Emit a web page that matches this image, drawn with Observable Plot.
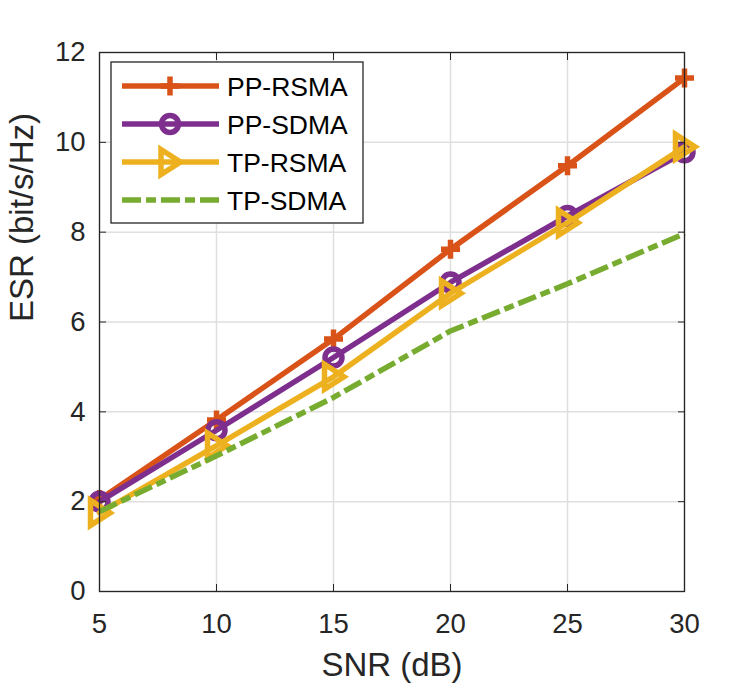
<!DOCTYPE html>
<html>
<head>
<meta charset="utf-8">
<script src="https://cdn.jsdelivr.net/npm/d3@7"></script>
<script src="https://cdn.jsdelivr.net/npm/@observablehq/plot@0.6"></script>
<style>
  html, body { margin: 0; padding: 0; background: #fff; }
  #chart { width: 756px; height: 688px; }
</style>
</head>
<body>
<div id="chart"></div>
<script>
const snr = [5, 10, 15, 20, 25, 30];
const seriesNames = ["PP-RSMA", "PP-SDMA", "TP-RSMA", "TP-SDMA"];
const ppRsma = [2.05, 3.82, 5.62, 7.62, 9.48, 11.43];
const ppSdma = [2.00, 3.59, 5.21, 6.88, 8.36, 9.78];
const tpRsma = [1.75, 3.25, 4.78, 6.64, 8.21, 9.90];
const tpSdma = [1.78, 3.02, 4.32, 5.80, 6.85, 7.97];
const xTicks = [5, 10, 15, 20, 25, 30];
const yTicks = [0, 2, 4, 6, 8, 10, 12];
const colors = ["#D95319", "#7E2F8E", "#EDB120", "#77AC30"];

const values = [ppRsma, ppSdma, tpRsma, tpSdma];
const rows = seriesNames.map((name, i) => snr.map((x, j) => ({series: name, snr: x, esr: values[i][j]})));

const LW = 5.5;
const plusSym = {draw(c) { c.moveTo(-9.5, 0); c.lineTo(9.5, 0); c.moveTo(0, -9.5); c.lineTo(0, 9.5); }};
const circleSym = {draw(c) { c.moveTo(8.5, 0); c.arc(0, 0, 8.5, 0, 2 * Math.PI); c.closePath(); }};
const triSym = {draw(c) { c.moveTo(10.5, 0); c.lineTo(-9, -12.5); c.lineTo(-9, 12.5); c.closePath(); }};
const symbols = [plusSym, circleSym, triSym, null];
const dashes = [null, null, null, "19,5,10,5"];

const font = "'Liberation Sans', Arial, Helvetica, sans-serif";
const ink = "#262626";

const marks = [
  Plot.gridX(xTicks, {stroke: "#dfdfdf", strokeOpacity: 1, strokeWidth: 1.5}),
  Plot.gridY(yTicks, {stroke: "#dfdfdf", strokeOpacity: 1, strokeWidth: 1.5})
];
rows.forEach((data, i) => {
  marks.push(Plot.line(data, {x: "snr", y: "esr", stroke: colors[i], strokeWidth: LW,
    strokeDasharray: dashes[i] || undefined,
    strokeLinecap: dashes[i] ? "butt" : "round", strokeLinejoin: "round"}));
  if (symbols[i]) {
    marks.push(Plot.dot(data, {x: "snr", y: "esr", symbol: symbols[i], r: 8, fill: "none",
      stroke: colors[i], strokeWidth: LW, strokeLinejoin: "miter"}));
  }
});
marks.push(
  Plot.frame({stroke: ink, strokeWidth: 1.3}),
  Plot.axisX(xTicks, {anchor: "bottom", tickSize: -7, tickPadding: 29, fontSize: 27.5, color: ink, label: null}),
  Plot.axisX(xTicks, {anchor: "top", tickSize: -7, tickFormat: () => "", label: null, color: ink}),
  Plot.axisY(yTicks, {anchor: "left", tickSize: -7, tickPadding: 21, fontSize: 27.5, color: ink, label: null}),
  Plot.axisY(yTicks, {anchor: "right", tickSize: -7, tickFormat: () => "", label: null, color: ink}),
  Plot.text(["SNR (dB)"], {frameAnchor: "bottom", dy: 74, fontSize: 33, fill: ink, lineAnchor: "middle"}),
  Plot.text(["ESR (bit/s/Hz)"], {frameAnchor: "left", dx: -77, rotate: -90, fontSize: 33, fill: ink, lineAnchor: "middle"})
);

const chart = Plot.plot({
  width: 756, height: 688,
  marginLeft: 99, marginRight: 72, marginTop: 52, marginBottom: 97,
  style: {fontFamily: font, background: "white", overflow: "visible"},
  x: {domain: [5, 30]},
  y: {domain: [0, 12]},
  marks
});
document.getElementById("chart").appendChild(chart);

// Legend
const svg = d3.select(chart);
const lg = svg.append("g").attr("font-family", font).attr("text-anchor", "start");
lg.append("rect").attr("x", 111).attr("y", 62).attr("width", 252).attr("height", 161)
  .attr("fill", "white").attr("stroke", ink).attr("stroke-width", 1.3);
seriesNames.forEach((name, i) => {
  const yy = 86 + i * 38;
  lg.append("line").attr("x1", 122).attr("x2", 219).attr("y1", yy).attr("y2", yy)
    .attr("stroke", colors[i]).attr("stroke-width", LW)
    .attr("stroke-dasharray", dashes[i]);
  if (symbols[i]) {
    const p = d3.path();
    symbols[i].draw(p, 0);
    lg.append("path").attr("d", p.toString()).attr("transform", `translate(170,${yy})`)
      .attr("fill", "none").attr("stroke", colors[i]).attr("stroke-width", LW);
  }
  lg.append("text").attr("x", 227).attr("y", yy).attr("dy", "0.36em")
    .attr("font-size", 26.5).attr("fill", "#000").text(name);
});
</script>
</body>
</html>
